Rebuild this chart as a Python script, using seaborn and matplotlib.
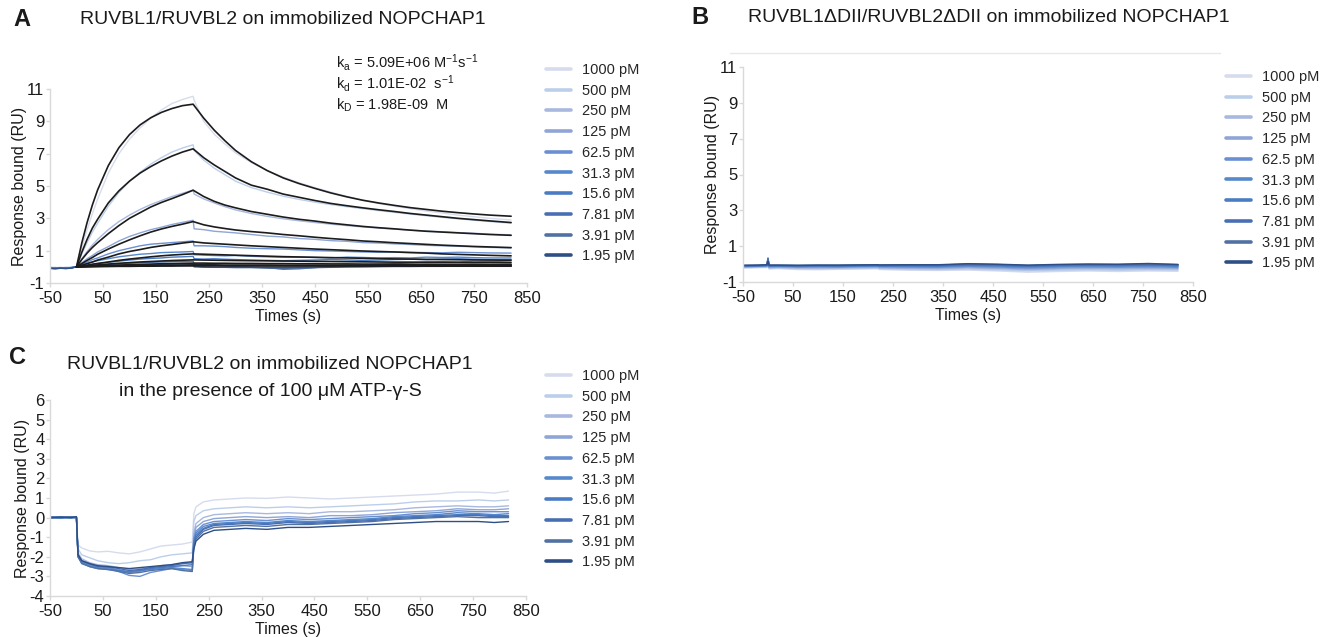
import matplotlib
matplotlib.use("Agg")
import matplotlib.pyplot as plt
from matplotlib.lines import Line2D
import pandas as pd
import seaborn as sns

# ---------------- data ----------------
conc_labels = ["1000 pM", "500 pM", "250 pM", "125 pM", "62.5 pM",
               "31.3 pM", "15.6 pM", "7.81 pM", "3.91 pM", "1.95 pM"]
conc_colors = ["#d6dcee", "#bccfea", "#a9b8de", "#8ea5d6", "#6a90d2",
               "#5688cc", "#4a7cc4", "#486fb3", "#5271a3", "#2e4f85"]

# panel A: measured sensorgrams
time_a = [-50, -40, -30, -20, -10, 0, 10, 20, 30, 40, 60, 80, 100, 120, 140, 160, 180, 200, 220,
          222, 240, 260, 280, 300, 330, 360, 390, 420, 450, 480, 510, 540, 570, 600, 630, 660,
          690, 720, 750, 780, 820]
resp_a = [
    [-0.04, -0.07, -0.05, -0.08, -0.03, 0.0, 1.2, 2.3, 3.3, 4.2, 5.8, 7.0, 7.9, 8.6, 9.2, 9.7, 10.1, 10.35, 10.55,
     10.3, 9.0, 8.2, 7.6, 7.05, 6.45, 5.95, 5.55, 5.2, 4.9, 4.62, 4.36, 4.12, 3.92, 3.75, 3.6, 3.45, 3.33, 3.2, 3.1, 3.0, 2.9],
    [-0.05, -0.06, -0.08, -0.05, -0.04, 0.0, 0.8, 1.5, 2.15, 2.7, 3.75, 4.6, 5.3, 5.85, 6.35, 6.75, 7.1, 7.35, 7.55,
     7.2, 6.6, 6.1, 5.7, 5.3, 4.9, 4.62, 4.37, 4.17, 4.0, 3.85, 3.72, 3.6, 3.48, 3.37, 3.26, 3.16, 3.06, 2.97, 2.88, 2.8, 2.7],
    [-0.06, -0.04, -0.07, -0.05, -0.06, 0.0, 0.5, 0.95, 1.35, 1.7, 2.3, 2.8, 3.2, 3.55, 3.85, 4.1, 4.35, 4.55, 4.75,
     4.5, 4.2, 3.95, 3.72, 3.52, 3.3, 3.12, 2.97, 2.85, 2.74, 2.64, 2.55, 2.47, 2.4, 2.33, 2.27, 2.22, 2.17, 2.12, 2.08, 2.02, 1.98],
    [-0.03, -0.06, -0.04, -0.07, -0.05, 0.0, 0.25, 0.5, 0.7, 0.92, 1.25, 1.6, 1.88, 2.1, 2.3, 2.45, 2.62, 2.75, 2.88,
     2.35, 2.3, 2.2, 2.15, 2.1, 2.0, 1.9, 1.85, 1.75, 1.7, 1.62, 1.58, 1.5, 1.47, 1.42, 1.38, 1.33, 1.3, 1.27, 1.24, 1.2, 1.17],
    [-0.05, -0.08, -0.06, -0.04, -0.06, 0.0, 0.15, 0.3, 0.45, 0.55, 0.8, 1.0, 1.15, 1.3, 1.4, 1.45, 1.5, 1.55, 1.6,
     1.3, 1.3, 1.28, 1.25, 1.2, 1.15, 1.12, 1.1, 1.05, 1.0, 0.98, 0.95, 0.92, 0.9, 0.92, 0.9, 0.88, 0.87, 0.9, 0.88, 0.86, 0.85],
    [-0.07, -0.05, -0.08, -0.06, -0.04, 0.0, 0.1, 0.2, 0.3, 0.38, 0.5, 0.62, 0.7, 0.78, 0.82, 0.88, 0.9, 0.92, 0.95,
     0.75, 0.72, 0.7, 0.68, 0.7, 0.65, 0.62, 0.6, 0.6, 0.58, 0.55, 0.6, 0.58, 0.55, 0.57, 0.55, 0.6, 0.58, 0.6, 0.57, 0.55, 0.55],
    [-0.06, -0.09, -0.05, -0.08, -0.05, 0.0, 0.05, 0.1, 0.15, 0.2, 0.28, 0.35, 0.42, 0.48, 0.52, 0.55, 0.6, 0.62, 0.65,
     0.5, 0.48, 0.5, 0.47, 0.45, 0.42, 0.4, 0.38, 0.4, 0.42, 0.45, 0.43, 0.4, 0.42, 0.45, 0.47, 0.45, 0.48, 0.5, 0.47, 0.45, 0.45],
    [-0.08, -0.1, -0.07, -0.09, -0.06, 0.0, 0.03, 0.06, 0.08, 0.1, 0.15, 0.18, 0.22, 0.25, 0.28, 0.3, 0.32, 0.34, 0.35,
     0.15, 0.12, 0.1, 0.05, 0.02, 0.0, -0.05, -0.15, -0.12, -0.05, 0.05, 0.1, 0.12, 0.15, 0.2, 0.25, 0.3, 0.32, 0.3, 0.35, 0.33, 0.3],
    [-0.09, -0.11, -0.08, -0.1, -0.07, 0.0, 0.01, 0.02, 0.03, 0.04, 0.06, 0.08, 0.1, 0.12, 0.13, 0.15, 0.16, 0.17, 0.18,
     0.05, 0.0, -0.02, -0.03, -0.05, -0.05, -0.08, -0.1, -0.08, -0.05, -0.03, 0.0, 0.02, 0.03, 0.05, 0.07, 0.08, 0.1, 0.1, 0.12, 0.12, 0.12],
    [-0.1, -0.12, -0.09, -0.11, -0.08, 0.0, 0.01, 0.01, 0.02, 0.02, 0.03, 0.04, 0.05, 0.05, 0.06, 0.06, 0.07, 0.07, 0.08,
     0.0, -0.02, -0.03, -0.03, -0.02, -0.03, -0.04, -0.05, -0.03, -0.02, -0.02, 0.0, 0.0, 0.01, 0.02, 0.02, 0.03, 0.03, 0.04, 0.04, 0.05, 0.05],
]

# panel A: 1:1 kinetic fit curves
time_fit = [0, 10, 20, 30, 40, 60, 80, 100, 120, 140, 160, 180, 200, 220, 240, 260, 280, 300, 330, 360,
            390, 420, 450, 480, 510, 540, 570, 600, 630, 660, 690, 720, 750, 780, 820]
fit_a = [
    [0, 1.48, 2.74, 3.83, 4.77, 6.26, 7.37, 8.18, 8.78, 9.22, 9.55, 9.79, 9.97, 10.06,
     9.2, 8.45, 7.8, 7.2, 6.5, 5.95, 5.5, 5.15, 4.85, 4.57, 4.33, 4.12, 3.95, 3.8, 3.66, 3.55, 3.44, 3.35, 3.27, 3.2, 3.13],
    [0, 0.9, 1.7, 2.4, 2.95, 3.95, 4.7, 5.3, 5.8, 6.2, 6.55, 6.85, 7.1, 7.3,
     6.75, 6.3, 5.9, 5.5, 5.05, 4.8, 4.5, 4.3, 4.1, 3.92, 3.78, 3.65, 3.53, 3.42, 3.3, 3.2, 3.1, 3.0, 2.92, 2.84, 2.74],
    [0, 0.45, 0.85, 1.2, 1.5, 2.05, 2.55, 3.0, 3.35, 3.7, 3.98, 4.22, 4.47, 4.74,
     4.35, 4.05, 3.82, 3.65, 3.42, 3.25, 3.08, 2.94, 2.83, 2.7, 2.6, 2.5, 2.42, 2.35, 2.27, 2.2, 2.15, 2.1, 2.05, 2.0, 1.95],
    [0, 0.2, 0.4, 0.58, 0.78, 1.1, 1.4, 1.67, 1.92, 2.15, 2.34, 2.5, 2.64, 2.8,
     2.6, 2.47, 2.37, 2.28, 2.18, 2.1, 2.0, 1.92, 1.83, 1.75, 1.68, 1.6, 1.55, 1.49, 1.44, 1.39, 1.34, 1.3, 1.26, 1.23, 1.19],
    [0, 0.1, 0.2, 0.3, 0.42, 0.6, 0.8, 0.95, 1.07, 1.2, 1.3, 1.38, 1.47, 1.55,
     1.48, 1.44, 1.4, 1.36, 1.3, 1.25, 1.2, 1.15, 1.1, 1.06, 1.02, 0.98, 0.95, 0.92, 0.88, 0.85, 0.8, 0.77, 0.74, 0.71, 0.68],
    [0, 0.05, 0.1, 0.16, 0.21, 0.3, 0.4, 0.48, 0.55, 0.62, 0.68, 0.73, 0.77, 0.8,
     0.78, 0.76, 0.74, 0.72, 0.69, 0.66, 0.63, 0.61, 0.59, 0.57, 0.55, 0.53, 0.51, 0.49, 0.48, 0.46, 0.45, 0.44, 0.43, 0.42, 0.41],
    [0, 0.03, 0.06, 0.09, 0.12, 0.17, 0.22, 0.26, 0.3, 0.33, 0.36, 0.39, 0.41, 0.43,
     0.42, 0.41, 0.4, 0.39, 0.38, 0.37, 0.36, 0.35, 0.34, 0.33, 0.32, 0.31, 0.3, 0.29, 0.29, 0.28, 0.27, 0.27, 0.26, 0.26, 0.25],
    [0, 0.02, 0.03, 0.05, 0.06, 0.09, 0.11, 0.13, 0.15, 0.17, 0.19, 0.2, 0.22, 0.23,
     0.23, 0.22, 0.22, 0.21, 0.21, 0.2, 0.2, 0.19, 0.19, 0.18, 0.18, 0.17, 0.17, 0.16, 0.16, 0.16, 0.15, 0.15, 0.15, 0.14, 0.14],
    [0, 0.01, 0.02, 0.03, 0.03, 0.05, 0.06, 0.07, 0.08, 0.09, 0.1, 0.1, 0.11, 0.12,
     0.12, 0.12, 0.11, 0.11, 0.11, 0.11, 0.1, 0.1, 0.1, 0.1, 0.1, 0.09, 0.09, 0.09, 0.09, 0.09, 0.09, 0.08, 0.08, 0.08, 0.08],
    [0, 0, 0.01, 0.01, 0.02, 0.02, 0.03, 0.03, 0.04, 0.04, 0.05, 0.05, 0.06, 0.06,
     0.06, 0.06, 0.06, 0.06, 0.06, 0.05, 0.05, 0.05, 0.05, 0.05, 0.05, 0.05, 0.05, 0.05, 0.05, 0.04, 0.04, 0.04, 0.04, 0.04, 0.04],
]

# panel B: deletion mutant, no binding
time_b = [-50, -20, -2, 0, 2, 20, 60, 100, 140, 180, 219, 223, 280, 340, 400, 460, 520, 580, 640, 700, 760, 820]
resp_b = [
    [-0.22, -0.2, -0.19, 0.0, -0.27, -0.25, -0.3, -0.31, -0.29, -0.28, -0.26, -0.3, -0.34, -0.35, -0.33, -0.38, -0.45, -0.41, -0.38, -0.41, -0.38, -0.4],
    [-0.2, -0.18, -0.17, 0.06, -0.24, -0.22, -0.26, -0.27, -0.25, -0.24, -0.22, -0.26, -0.29, -0.31, -0.28, -0.32, -0.38, -0.35, -0.32, -0.35, -0.32, -0.34],
    [-0.17, -0.15, -0.15, 0.12, -0.2, -0.18, -0.22, -0.23, -0.22, -0.2, -0.19, -0.22, -0.24, -0.26, -0.22, -0.26, -0.32, -0.28, -0.26, -0.28, -0.26, -0.28],
    [-0.15, -0.13, -0.12, 0.18, -0.17, -0.15, -0.18, -0.18, -0.18, -0.16, -0.16, -0.18, -0.2, -0.21, -0.17, -0.21, -0.26, -0.23, -0.2, -0.22, -0.2, -0.23],
    [-0.13, -0.12, -0.1, 0.24, -0.14, -0.13, -0.15, -0.14, -0.15, -0.13, -0.12, -0.14, -0.16, -0.17, -0.12, -0.16, -0.21, -0.17, -0.15, -0.17, -0.14, -0.18],
    [-0.11, -0.1, -0.08, 0.3, -0.12, -0.11, -0.13, -0.12, -0.13, -0.11, -0.1, -0.12, -0.12, -0.13, -0.08, -0.11, -0.16, -0.12, -0.1, -0.12, -0.09, -0.13],
    [-0.1, -0.09, -0.07, 0.34, -0.1, -0.09, -0.11, -0.1, -0.11, -0.09, -0.08, -0.1, -0.09, -0.1, -0.05, -0.08, -0.12, -0.09, -0.07, -0.08, -0.05, -0.09],
    [-0.09, -0.08, -0.06, 0.3, -0.08, -0.08, -0.09, -0.08, -0.09, -0.07, -0.06, -0.08, -0.07, -0.08, -0.02, -0.05, -0.1, -0.06, -0.04, -0.05, -0.02, -0.06],
    [-0.08, -0.07, -0.05, 0.24, -0.07, -0.07, -0.08, -0.07, -0.07, -0.06, -0.05, -0.06, -0.05, -0.06, 0.0, -0.03, -0.08, -0.04, -0.02, -0.03, 0.0, -0.04],
    [-0.07, -0.06, -0.04, 0.16, -0.06, -0.06, -0.07, -0.06, -0.06, -0.05, -0.04, -0.05, -0.04, -0.04, 0.02, -0.01, -0.06, -0.02, 0.0, -0.01, 0.03, -0.02],
]

# panel C: with ATP-gamma-S
time_c = [-50, -30, -10, 0, 3, 10, 25, 40, 60, 80, 100, 120, 140, 160, 180, 200, 219,
          222, 226, 240, 260, 290, 320, 360, 400, 440, 480, 520, 560, 600, 640, 680, 720, 760, 790, 817]
resp_c = [
    [0.0, 0.05, 0.02, 0.0, -1.4, -1.55, -1.7, -1.75, -1.72, -1.8, -1.85, -1.75, -1.6, -1.45, -1.4, -1.35, -1.25,
     0.2, 0.55, 0.8, 0.9, 0.95, 1.0, 0.98, 1.05, 1.0, 0.95, 1.0, 1.05, 1.1, 1.15, 1.2, 1.3, 1.3, 1.25, 1.35],
    [0.0, 0.03, -0.03, -0.02, -1.6, -1.9, -2.05, -2.2, -2.3, -2.35, -2.3, -2.2, -2.15, -2.0, -1.9, -1.85, -1.8,
     -0.2, 0.1, 0.35, 0.45, 0.5, 0.55, 0.5, 0.55, 0.5, 0.55, 0.6, 0.65, 0.7, 0.8, 0.85, 0.85, 0.9, 0.85, 0.9],
    [0.02, -0.03, 0.05, 0.0, -1.8, -2.1, -2.3, -2.4, -2.45, -2.55, -2.65, -2.6, -2.55, -2.45, -2.4, -2.35, -2.3,
     -0.8, -0.3, 0.0, 0.15, 0.2, 0.25, 0.2, 0.25, 0.2, 0.3, 0.3, 0.35, 0.4, 0.5, 0.55, 0.6, 0.55, 0.55, 0.6],
    [-0.02, 0.04, 0.0, -0.04, -1.9, -2.2, -2.4, -2.5, -2.55, -2.65, -2.8, -2.75, -2.6, -2.55, -2.5, -2.45, -2.5,
     -1.0, -0.5, -0.2, -0.05, 0.0, 0.05, 0.0, 0.05, 0.0, 0.1, 0.1, 0.15, 0.25, 0.3, 0.35, 0.45, 0.4, 0.4, 0.45],
    [0.03, 0.0, 0.05, -0.03, -2.0, -2.3, -2.45, -2.55, -2.6, -2.75, -2.95, -3.0, -2.8, -2.7, -2.6, -2.65, -2.7,
     -1.1, -0.7, -0.35, -0.2, -0.15, -0.1, -0.15, -0.05, -0.1, -0.05, 0.0, 0.05, 0.1, 0.2, 0.25, 0.35, 0.3, 0.3, 0.3],
    [0.0, -0.04, 0.02, 0.02, -1.9, -2.25, -2.4, -2.5, -2.55, -2.7, -2.8, -2.7, -2.65, -2.6, -2.55, -2.6, -2.65,
     -1.2, -0.8, -0.45, -0.3, -0.25, -0.2, -0.25, -0.15, -0.2, -0.15, -0.1, -0.05, 0.05, 0.1, 0.15, 0.25, 0.2, 0.15, 0.2],
    [0.04, 0.0, -0.02, 0.03, -2.0, -2.3, -2.5, -2.6, -2.65, -2.7, -2.75, -2.7, -2.6, -2.55, -2.5, -2.45, -2.4,
     -1.3, -0.9, -0.55, -0.35, -0.3, -0.25, -0.3, -0.2, -0.25, -0.2, -0.15, -0.1, 0.0, 0.05, 0.1, 0.15, 0.15, 0.1, 0.1],
    [0.0, 0.04, 0.0, 0.02, -1.9, -2.2, -2.35, -2.5, -2.5, -2.6, -2.7, -2.65, -2.55, -2.5, -2.45, -2.35, -2.3,
     -1.4, -1.0, -0.6, -0.4, -0.35, -0.3, -0.35, -0.25, -0.3, -0.25, -0.2, -0.15, -0.05, 0.0, 0.05, 0.1, 0.1, 0.05, 0.05],
    [-0.02, 0.0, 0.04, 0.0, -2.0, -2.35, -2.5, -2.6, -2.65, -2.75, -2.85, -2.8, -2.7, -2.65, -2.6, -2.7, -2.75,
     -1.5, -1.1, -0.7, -0.5, -0.45, -0.4, -0.45, -0.35, -0.35, -0.3, -0.25, -0.2, -0.1, -0.05, 0.0, 0.05, 0.0, 0.0, 0.0],
    [0.0, 0.02, 0.0, 0.05, -1.9, -2.2, -2.35, -2.45, -2.5, -2.55, -2.6, -2.55, -2.5, -2.45, -2.4, -2.3, -2.25,
     -1.6, -1.2, -0.85, -0.65, -0.6, -0.55, -0.6, -0.5, -0.5, -0.45, -0.4, -0.35, -0.3, -0.25, -0.2, -0.2, -0.2, -0.25, -0.2],
]

kinetics = [r"k$_\mathregular{a}$ = 5.09E+06 M$^\mathregular{-1}$s$^\mathregular{ -1}$",
            r"k$_\mathregular{d}$ = 1.01E-02  s$^\mathregular{-1}$",
            r"k$_\mathregular{D}$ = 1.98E-09  M"]


def long_form(times, rows):
    recs = []
    for lab, vals in zip(conc_labels, rows):
        assert len(vals) == len(times), lab
        recs += [(t, v, lab) for t, v in zip(times, vals)]
    return pd.DataFrame(recs, columns=["time", "resp", "conc"])


# ---------------- figure ----------------
sns.set_theme(style="white")
plt.rcParams["font.family"] = ["Liberation Sans", "DejaVu Sans"]
plt.rcParams["mathtext.default"] = "regular"
plt.rcParams["axes.unicode_minus"] = False

W, H = 1329, 637
fig = plt.figure(figsize=(W / 100, H / 100), dpi=100)


def px_axes(l, t, r, b):
    return fig.add_axes([l / W, 1 - b / H, (r - l) / W, (b - t) / H])


def style_axes(ax, yticks):
    ax.set_xlim(-50, 850)
    ax.set_xticks(range(-50, 851, 100))
    ax.set_ylim(yticks[0], yticks[-1])
    ax.set_yticks(yticks)
    for s in ["top", "right"]:
        ax.spines[s].set_visible(False)
    for s in ["left", "bottom"]:
        ax.spines[s].set_color("#d9d9d9")
        ax.spines[s].set_linewidth(1)
    ax.tick_params(length=3, width=1, color="#d9d9d9", labelsize=12, pad=1,
                   labelcolor="#1a1a1a", left=True, bottom=True)
    ax.tick_params(axis="x", pad=3)
    ax.set_xlabel("Times (s)", fontsize=11.5, labelpad=2, color="#1a1a1a")
    ax.set_ylabel("Response bound (RU)", fontsize=11.5, labelpad=0, color="#1a1a1a")


def add_legend(x, y):
    handles = [Line2D([], [], color=c, lw=2.6) for c in conc_colors]
    fig.legend(handles, conc_labels, loc="upper left", bbox_to_anchor=(x / W, 1 - y / H),
               frameon=False, fontsize=10.5, labelspacing=0.46, handlelength=1.7,
               handletextpad=0.8, borderaxespad=0, borderpad=0)


pal = dict(zip(conc_labels, conc_colors))

# A
ax_a = px_axes(50, 89, 527, 283)
sns.lineplot(data=long_form(time_a, resp_a), x="time", y="resp", hue="conc",
             hue_order=conc_labels, palette=pal, estimator=None, lw=1.0, legend=False, ax=ax_a)
sns.lineplot(data=long_form(time_fit, fit_a), x="time", y="resp", units="conc",
             estimator=None, color="#1c1c1c", lw=1.2, legend=False, ax=ax_a)
style_axes(ax_a, [-1, 1, 3, 5, 7, 9, 11])
for i, s in enumerate(kinetics):
    fig.text(336 / W, 1 - (62 + 21.5 * i) / H, s, fontsize=10.5, va="center", ha="left", color="#1a1a1a")
add_legend(546, 63)

# B
ax_b = px_axes(743, 67, 1193, 282)
sns.lineplot(data=long_form(time_b, resp_b), x="time", y="resp", hue="conc",
             hue_order=conc_labels, palette=pal, estimator=None, lw=1.1, legend=False, ax=ax_b)
style_axes(ax_b, [-1, 1, 3, 5, 7, 9, 11])
add_legend(1226, 70)
fig.add_artist(Line2D([730 / W, 1220 / W], [1 - 53 / H] * 2, color="#e8e8e8", lw=1))

# C
ax_c = px_axes(50, 400, 526, 596)
sns.lineplot(data=long_form(time_c, resp_c), x="time", y="resp", hue="conc",
             hue_order=conc_labels, palette=pal, estimator=None, lw=1.0, legend=False, ax=ax_c)
style_axes(ax_c, list(range(-4, 7)))
add_legend(546, 369)

# titles and panel letters
fig.text(283 / W, 1 - 19 / H, "RUVBL1/RUVBL2 on immobilized NOPCHAP1", fontsize=14,
         ha="center", va="center", color="#1a1a1a")
fig.text(989 / W, 1 - 18 / H, "RUVBL1ΔDII/RUVBL2ΔDII on immobilized NOPCHAP1", fontsize=14,
         ha="center", va="center", color="#1a1a1a")
fig.text(270 / W, 1 - 378 / H, "RUVBL1/RUVBL2 on immobilized NOPCHAP1\nin the presence of 100 μM ATP-γ-S",
         fontsize=14, ha="center", va="center", linespacing=1.75, color="#1a1a1a")
for lab, x, y in [("A", 22, 20), ("B", 700, 18), ("C", 18, 357)]:
    fig.text(x / W, 1 - y / H, lab, fontsize=17, fontweight="bold", ha="center", va="center",
             color="#1a1a1a")

fig.savefig("out.png", dpi=100)
